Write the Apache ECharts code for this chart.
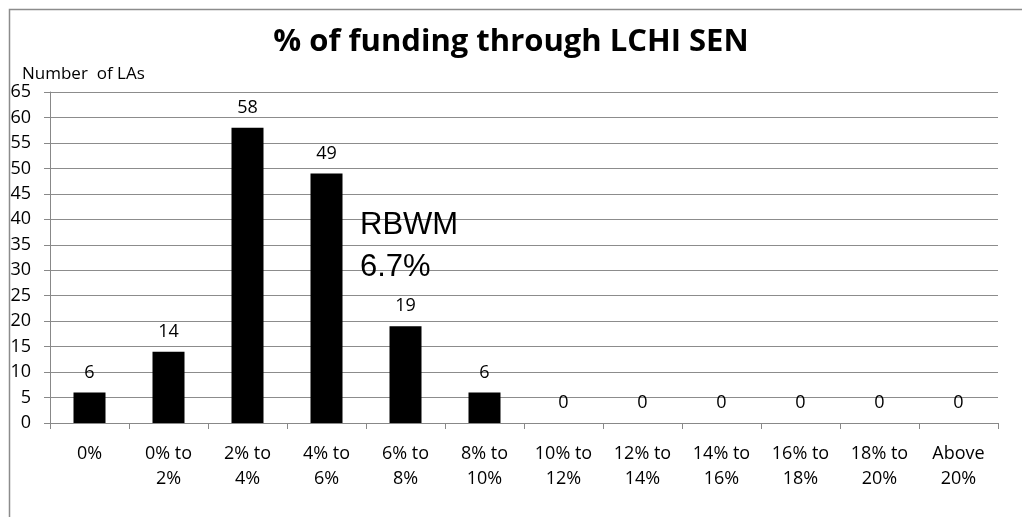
<!DOCTYPE html>
<html><head><meta charset="utf-8">
<script src="https://cdn.jsdelivr.net/npm/echarts@6/dist/echarts.min.js"></script>
<style>html,body{margin:0;padding:0;background:#fff}#c{width:1022px;height:517px}</style>
</head><body><div id="c"></div>
<script>
const categories = ['0%', '0% to\n2%', '2% to\n4%', '4% to\n6%', '6% to\n8%', '8% to\n10%', '10% to\n12%', '12% to\n14%', '14% to\n16%', '16% to\n18%', '18% to\n20%', 'Above\n20%'];
const counts = [6, 14, 58, 49, 19, 6, 0, 0, 0, 0, 0, 0];
const yTicks = {min: 0, max: 65, interval: 5};
const titleText = '% of funding through LCHI SEN';
const yAxisTitle = 'Number  of LAs';
const annotation = ['RBWM', '6.7%'];

const font = '"Open Sans", Lato, sans-serif';
const chart = echarts.init(document.getElementById('c'), null, {renderer: 'canvas'});
chart.setOption({
  animation: false,
  backgroundColor: '#fff',
  title: {
    text: titleText, left: 'center', top: 22,
    textStyle: {fontFamily: font, fontWeight: 'bold', fontSize: 31, color: '#000'}
  },
  grid: {left: 50, right: 24, top: 92, bottom: 94, containLabel: false},
  xAxis: {
    type: 'category', data: categories, boundaryGap: true,
    axisLine: {lineStyle: {color: '#888', width: 1}},
    axisTick: {show: true, alignWithLabel: false, length: 6, lineStyle: {color: '#888'}},
    axisLabel: {fontFamily: font, fontSize: 18, color: '#000', margin: 18, lineHeight: 25, interval: 0}
  },
  yAxis: {
    type: 'value', min: yTicks.min, max: yTicks.max, interval: yTicks.interval,
    name: yAxisTitle, nameLocation: 'end', nameGap: 9,
    nameTextStyle: {fontFamily: font, fontSize: 17, color: '#000', align: 'left', padding: [0, 0, 0, -28]},
    axisLine: {show: true, lineStyle: {color: '#888', width: 1}},
    axisTick: {show: true, length: 6, lineStyle: {color: '#888'}},
    splitLine: {lineStyle: {color: '#8c8c8c', width: 1}},
    axisLabel: {fontFamily: font, fontSize: 18, color: '#000', margin: 19}
  },
  series: [{
    type: 'bar', data: counts, barWidth: 32,
    itemStyle: {color: '#000'},
    label: {show: true, position: 'top', distance: 11, fontFamily: font, fontSize: 18, color: '#000'}
  }],
  graphic: [
    {type: 'rect', left: 7, top: 7, shape: {x: 0, y: 0, width: 1100, height: 600},
     style: {fill: 'none', stroke: '#8c8c8c', lineWidth: 1.5}, silent: true, z: 100},
    {type: 'text', left: 360, top: 204,
     style: {text: annotation.join('\n'), font: '31px "Liberation Sans", Arial, sans-serif', fill: '#000', lineHeight: 42}, z: 100}
  ]
});
</script></body></html>
